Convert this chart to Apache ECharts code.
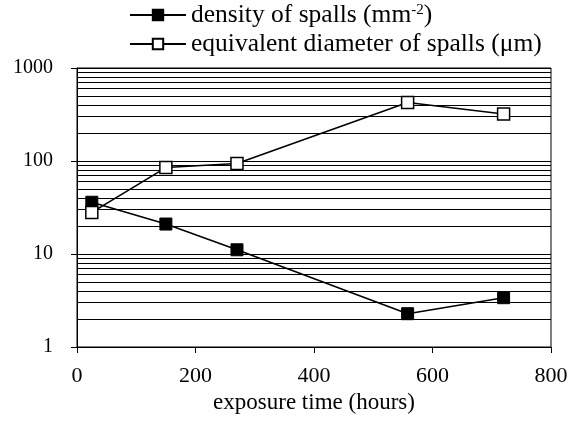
<!DOCTYPE html>
<html>
<head>
<meta charset="utf-8">
<script src="https://cdn.jsdelivr.net/npm/echarts@6/dist/echarts.min.js"></script>
<style>html,body{margin:0;padding:0;background:#fff;}#c{width:580px;height:421px;}</style>
</head>
<body>
<div id="c"></div>
<script>
var hours = [25, 150, 270, 558, 720];
var density = [36, 21, 11.1, 2.28, 3.39];
var diameter = [28, 85, 94, 425, 320];
var gridValues = [2,3,4,5,6,7,8,9,10,20,30,40,50,60,70,80,90,100,200,300,400,500,600,700,800,900,1000];
var xTicks = [0, 200, 400, 600, 800];
var seriesNames = ['density of spalls (mm-2)', 'equivalent diameter of spalls (\u03bcm)'];

function pairs(xs, ys){ return xs.map(function(x,i){ return [x, ys[i]]; }); }

var FONT = '"Liberation Serif", "Times New Roman", serif';
var chart = echarts.init(document.getElementById('c'), null, {renderer:'canvas'});
chart.setOption({
  animation: false,
  backgroundColor: '#fff',
  textStyle: {fontFamily: FONT, color: '#000'},
  grid: {left: 77, right: 29, top: 68, bottom: 74, show: true, borderColor: '#000', borderWidth: 1, backgroundColor: 'transparent'},
  legend: {
    orient: 'vertical', left: 129, top: 2, padding: 0, itemWidth: 56, itemHeight: 13, itemGap: 3,
    textStyle: {fontFamily: FONT, fontSize: 25.5, color: '#000',
      rich: {
        a: {fontFamily: FONT, fontSize: 25.5, color: '#000'},
        s: {fontFamily: FONT, fontSize: 15, color: '#000', padding: [0,0,10,0]}
      }
    },
    formatter: function(n){
      if (n === seriesNames[0]) return '{a|density of spalls (mm}{s|-2}{a|)}';
      return '{a|' + n + '}';
    },
    data: seriesNames
  },
  xAxis: {
    type: 'value', min: xTicks[0], max: xTicks[xTicks.length-1], interval: 200,
    name: 'exposure time (hours)', nameLocation: 'middle', nameGap: 40,
    nameTextStyle: {fontFamily: FONT, fontSize: 23, color: '#000'},
    axisLine: {show: true, lineStyle: {color: '#000', width: 1}},
    axisTick: {show: true, inside: false, length: 6, lineStyle: {color: '#000'}},
    axisLabel: {fontFamily: FONT, fontSize: 22, color: '#000', margin: 18},
    splitLine: {show: false}
  },
  yAxis: {
    type: 'log', logBase: 10, min: 1, max: 1000,
    axisLine: {show: true, lineStyle: {color: '#000', width: 1}},
    axisTick: {show: true, inside: false, length: 6, lineStyle: {color: '#000'}},
    axisLabel: {fontFamily: FONT, fontSize: 20, color: '#000', margin: 24, formatter: function(v){ return String(v); }},
    splitLine: {show: false},
    minorTick: {show: false}
  },
  series: [
    {
      name: seriesNames[0], type: 'line', data: pairs(hours, density),
      symbol: 'rect', symbolSize: 12,
      lineStyle: {color: '#000', width: 1.6},
      itemStyle: {color: '#000', borderColor: '#000', borderWidth: 1},
      z: 5,
      markLine: {
        silent: true, symbol: ['none','none'], label: {show: false},
        lineStyle: {color: '#000', width: 1, type: 'solid'},
        data: gridValues.map(function(v){ return {yAxis: v}; })
      }
    },
    {
      name: seriesNames[1], type: 'line', data: pairs(hours, diameter),
      symbol: 'rect', symbolSize: 12,
      lineStyle: {color: '#000', width: 1.6},
      itemStyle: {color: '#fff', borderColor: '#000', borderWidth: 1.5},
      z: 6
    }
  ]
});
</script>
</body>
</html>
